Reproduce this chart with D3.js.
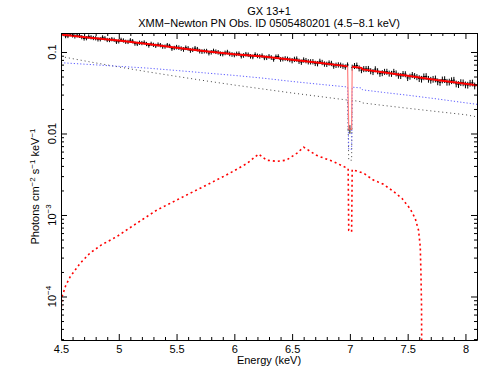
<!DOCTYPE html>
<html>
<head>
<meta charset="utf-8">
<script src="https://cdn.jsdelivr.net/npm/d3@7/dist/d3.min.js"></script>
<style>
  body { margin: 0; background: #fff; }
  svg text { font-family: "Liberation Sans", Arial, Helvetica, sans-serif; fill: #000; }
</style>
</head>
<body>
<svg id="chart" width="480" height="368"></svg>
<script>
// ---- values ----

// spectrum bins (keV), 0.02 keV wide; stored as two interleaved sets
const binHalfWidth = 0.01;
const dipBin = 7.0, dipHalfWidth = 0.02;
const dataEnergyA = d3.range(90).map(i => +(4.52 + 0.04 * i).toFixed(2));
const dataEnergyB = d3.range(89).map(i => +(4.54 + 0.04 * i).toFixed(2));
// observed flux, photons cm^-2 s^-1 keV^-1
const dataFluxA = [
  0.1662, 0.1574, 0.1600, 0.1609, 0.1524, 0.1479, 0.1517, 0.1476, 0.1435, 0.1474,
  0.1404, 0.1413, 0.1352, 0.1386, 0.1331, 0.1358, 0.1258, 0.1289, 0.1255, 0.1261,
  0.1192, 0.1215, 0.1166, 0.1188, 0.1123, 0.1132, 0.1076, 0.1108, 0.1068, 0.1083,
  0.1012, 0.1027, 0.0993, 0.1009, 0.0952, 0.0976, 0.0949, 0.0921, 0.0954, 0.0908,
  0.0926, 0.0872, 0.0898, 0.0902, 0.0852, 0.0857, 0.0875, 0.0812, 0.0834, 0.0802,
  0.0814, 0.0771, 0.0799, 0.0760, 0.0761, 0.0720, 0.0745, 0.0707, 0.0725, 0.0688,
  0.0690, 0.0655, 0.0113, 0.0675, 0.0631, 0.0619, 0.0621, 0.0569, 0.0582, 0.0552,
  0.0573, 0.0541, 0.0548, 0.0509, 0.0535, 0.0499, 0.0508, 0.0473, 0.0498, 0.0464,
  0.0464, 0.0432, 0.0456, 0.0427, 0.0446, 0.0407, 0.0423, 0.0396, 0.0415, 0.0384
];
const dataFluxB = [
  0.1569, 0.1659, 0.1557, 0.1582, 0.1467, 0.1551, 0.1486, 0.1430, 0.1513, 0.1407,
  0.1437, 0.1334, 0.1411, 0.1336, 0.1394, 0.1269, 0.1300, 0.1310, 0.1202, 0.1226,
  0.1237, 0.1164, 0.1216, 0.1098, 0.1148, 0.1102, 0.1128, 0.1045, 0.1113, 0.1026,
  0.1025, 0.0970, 0.1031, 0.0993, 0.0945, 0.0999, 0.0933, 0.0950, 0.0890, 0.0940,
  0.0886, 0.0930, 0.0885, 0.0849, 0.0885, 0.0813, 0.0881, 0.0820, 0.0824, 0.0784,
  0.0821, 0.0751, 0.0785, 0.0759, 0.0726, 0.0769, 0.0713, 0.0734, 0.0673, 0.0696,
  0.0671, 0.0693, 0.0644, 0.0683, 0.0600, 0.0620, 0.0583, 0.0616, 0.0542, 0.0572,
  0.0545, 0.0572, 0.0513, 0.0538, 0.0481, 0.0523, 0.0493, 0.0465, 0.0502, 0.0452,
  0.0469, 0.0425, 0.0460, 0.0429, 0.0452, 0.0400, 0.0420, 0.0393, 0.0418
];
// relative 1-sigma error, by energy band start
const errBandStart = [4.5, 5.5, 6.5, 6.99, 7.01, 7.6];
const errBandFrac  = [0.06, 0.065, 0.075, 0.12, 0.085, 0.095];

// model components on a common energy grid
const modelEnergy = [4.5, 4.75, 5.0, 5.25, 5.5, 5.75, 6.0, 6.25, 6.5, 6.75, 6.98,
                     6.99, 7.015, 7.02, 7.1, 7.11, 7.3, 7.5, 7.75, 8.0, 8.1];
const modelTotal  = [0.164, 0.150, 0.138, 0.125, 0.113, 0.102, 0.0935, 0.0878, 0.0804, 0.0733, 0.0666,
                     0.0113, 0.0113, 0.066, 0.0639, 0.0612, 0.0561, 0.0512, 0.0452, 0.0408, 0.0390];
const modelPowerlaw = [0.088, 0.0756, 0.0655, 0.0571, 0.0502, 0.0443, 0.0393, 0.0351, 0.0314, 0.0283, 0.0257,
                       0.0047, 0.0047, 0.0255, 0.0245, 0.0237, 0.0220, 0.0204, 0.0186, 0.0170, 0.0160];
const modelDisk   = [0.0739, 0.0702, 0.0667, 0.0634, 0.0593, 0.0553, 0.0516, 0.0477, 0.0435, 0.0400, 0.0372,
                     0.0064, 0.0064, 0.0370, 0.0362, 0.0343, 0.0318, 0.0295, 0.0266, 0.0238, 0.0228];
// the narrow absorption bin in the total model (drawn lighter)
const dipStart = 6.98, dipEnd = 7.02;

// line / reflection component (red dotted)
const lineEnergy = [4.5, 4.51, 4.54, 4.58, 4.665, 4.75, 4.85, 4.98, 5.13, 5.33, 5.56, 5.76, 5.96,
                    6.11, 6.21, 6.28, 6.37, 6.45, 6.54, 6.6, 6.71, 6.86, 6.985, 6.99, 7.015, 7.02,
                    7.05, 7.12, 7.2, 7.29, 7.38, 7.45, 7.52, 7.565, 7.594, 7.609, 7.615, 7.62, 7.625];
const lineFlux   = [6.5e-5, 1.0e-4, 1.35e-4, 1.75e-4, 2.55e-4, 3.4e-4, 4.3e-4, 5.4e-4, 7.5e-4, 1.15e-3,
                    1.68e-3, 2.33e-3, 3.25e-3, 4.3e-3, 5.6e-3, 4.7e-3, 4.55e-3, 4.7e-3, 5.7e-3, 6.8e-3,
                    5.4e-3, 4.5e-3, 3.7e-3, 6.5e-4, 6.2e-4, 3.6e-3, 3.5e-3, 3.25e-3, 2.7e-3, 2.38e-3,
                    1.93e-3, 1.6e-3, 1.2e-3, 9.1e-4, 6.5e-4, 4.1e-4, 1.9e-4, 7.5e-5, 1e-6];

// axis ticks and labels
const xMajorTicks = [4.5, 5, 5.5, 6, 6.5, 7, 7.5, 8];
const yMajorTicks = [0.1, 0.01, 1e-3, 1e-4];
const yTickBase   = ['0.1', '0.01', '10', '10'];
const yTickExp    = ['', '', '\u22123', '\u22124'];

const titleLine1 = 'GX 13+1';
const titleLine2 = 'XMM\u2212Newton PN Obs. ID 0505480201 (4.5\u22128.1 keV)';
const xTitle = 'Energy (keV)';

// ---- layout ----
const plot = { left: 61, right: 477, top: 33, bottom: 340 };
const svg = d3.select('#chart');

const x = d3.scaleLinear().domain([4.5, 8.1]).range([plot.left, plot.right]);
const y = d3.scaleLog().domain([2.925e-5, 0.171]).range([plot.bottom, plot.top]);

svg.append('defs').append('clipPath').attr('id', 'clip')
  .append('rect')
  .attr('x', plot.left).attr('y', plot.top)
  .attr('width', plot.right - plot.left).attr('height', plot.bottom - plot.top);

const layer = svg.append('g').attr('clip-path', 'url(#clip)');

function seriesLine(ex, vals, keep) {
  return d3.line()
    .defined((d, i) => !keep || keep(ex[i]))
    .x((d, i) => x(ex[i]))
    .y(d => y(d))(vals);
}

// model components (dotted)
layer.append('path')
  .attr('d', seriesLine(modelEnergy, modelPowerlaw))
  .attr('fill', 'none').attr('stroke', '#444').attr('stroke-width', 1)
  .attr('stroke-dasharray', '1,3');

layer.append('path')
  .attr('d', seriesLine(modelEnergy, modelDisk))
  .attr('fill', 'none').attr('stroke', '#5c5cff').attr('stroke-width', 1)
  .attr('stroke-dasharray', '1.2,2');

layer.append('path')
  .attr('d', seriesLine(lineEnergy, lineFlux))
  .attr('fill', 'none').attr('stroke', '#ff0000').attr('stroke-width', 1.6)
  .attr('stroke-dasharray', '2,3');

// data crosses
function errFor(e) {
  let f = errBandFrac[0];
  errBandStart.forEach((s, i) => { if (e >= s) f = errBandFrac[i]; });
  return f;
}

const pts = layer.append('g').attr('stroke', '#000').attr('stroke-width', 1);
function drawCrosses(energies, fluxes) {
  energies.forEach((e, i) => {
    const v = fluxes[i];
    const f = errFor(e);
    const hw = e === dipBin ? dipHalfWidth : binHalfWidth;
    pts.append('line')
      .attr('x1', x(e - hw)).attr('x2', x(e + hw))
      .attr('y1', y(v)).attr('y2', y(v));
    pts.append('line')
      .attr('x1', x(e)).attr('x2', x(e))
      .attr('y1', y(v * (1 - f))).attr('y2', y(v * (1 + f)));
  });
}
drawCrosses(dataEnergyA, dataFluxA);
drawCrosses(dataEnergyB, dataFluxB);

// total model (solid red), the absorption bin in a lighter stroke
layer.append('path')
  .attr('d', seriesLine(modelEnergy, modelTotal, e => e >= dipStart && e <= dipEnd))
  .attr('fill', 'none').attr('stroke', '#ff8080').attr('stroke-width', 1.2);
layer.append('path')
  .attr('d', seriesLine(modelEnergy, modelTotal, e => e <= dipStart))
  .attr('fill', 'none').attr('stroke', '#ff0000').attr('stroke-width', 2);
layer.append('path')
  .attr('d', seriesLine(modelEnergy, modelTotal, e => e >= dipEnd))
  .attr('fill', 'none').attr('stroke', '#ff0000').attr('stroke-width', 2);

// ---- axes (ticks inside, PGPLOT style) ----
const xMinorTicks = d3.range(45, 82).map(d => d / 10)
  .filter(d => !xMajorTicks.some(m => Math.abs(m - d) < 1e-6));
const yMinorTicks = [];
[-5, -4, -3, -2, -1].forEach(p => {
  for (let k = 2; k <= 9; k++) {
    const v = k * Math.pow(10, p);
    if (v > y.domain()[0] && v < y.domain()[1]) yMinorTicks.push(v);
  }
});

const axes = svg.append('g').attr('color', '#000').style('font-size', '11px');

axes.append('g').attr('transform', `translate(0,${plot.bottom})`)
  .call(d3.axisBottom(x).tickValues(xMajorTicks).tickSize(-6).tickSizeOuter(0)
    .tickPadding(5).tickFormat(d3.format('')))
  .call(g => g.selectAll('text').style('font-size', '11px').attr('font-family', null));
axes.append('g').attr('transform', `translate(0,${plot.bottom})`)
  .call(d3.axisBottom(x).tickValues(xMinorTicks).tickSize(-3).tickSizeOuter(0).tickFormat(''))
  .call(g => g.select('.domain').remove());

axes.append('g').attr('transform', `translate(0,${plot.top})`)
  .call(d3.axisTop(x).tickValues(xMajorTicks).tickSize(-6).tickSizeOuter(0).tickFormat(''));
axes.append('g').attr('transform', `translate(0,${plot.top})`)
  .call(d3.axisTop(x).tickValues(xMinorTicks).tickSize(-3).tickSizeOuter(0).tickFormat(''))
  .call(g => g.select('.domain').remove());

axes.append('g').attr('transform', `translate(${plot.left},0)`)
  .call(d3.axisLeft(y).tickValues(yMajorTicks).tickSize(-6).tickSizeOuter(0).tickFormat(''));
axes.append('g').attr('transform', `translate(${plot.left},0)`)
  .call(d3.axisLeft(y).tickValues(yMinorTicks).tickSize(-3).tickSizeOuter(0).tickFormat(''))
  .call(g => g.select('.domain').remove());

axes.append('g').attr('transform', `translate(${plot.right},0)`)
  .call(d3.axisRight(y).tickValues(yMajorTicks).tickSize(-6).tickSizeOuter(0).tickFormat(''));
axes.append('g').attr('transform', `translate(${plot.right},0)`)
  .call(d3.axisRight(y).tickValues(yMinorTicks).tickSize(-3).tickSizeOuter(0).tickFormat(''))
  .call(g => g.select('.domain').remove());

// y tick labels, rotated
yMajorTicks.forEach((v, i) => {
  const t = svg.append('text')
    .attr('transform', `translate(55.5,${y(v)}) rotate(-90)`)
    .attr('text-anchor', 'middle')
    .style('font-size', '11px');
  t.append('tspan').text(yTickBase[i]);
  if (yTickExp[i]) {
    t.append('tspan').attr('dy', -4.5).style('font-size', '8px').text(yTickExp[i]);
  }
});

// titles
svg.append('text').attr('x', (plot.left + plot.right) / 2).attr('y', 15)
  .attr('text-anchor', 'middle').style('font-size', '11px').text(titleLine1);
svg.append('text').attr('x', (plot.left + plot.right) / 2).attr('y', 26.5)
  .attr('text-anchor', 'middle').style('font-size', '11px').text(titleLine2);

svg.append('text').attr('x', (plot.left + plot.right) / 2).attr('y', 364)
  .attr('text-anchor', 'middle').style('font-size', '11px').text(xTitle);

// y axis title with superscripts
const yt = svg.append('text')
  .attr('transform', `translate(38.5,${(plot.top + plot.bottom) / 2}) rotate(-90)`)
  .attr('text-anchor', 'middle').style('font-size', '11px');
const yParts = [['Photons cm', ''], ['\u22122', 'sup'], [' s', ''], ['\u22121', 'sup'], [' keV', ''], ['\u22121', 'sup']];
yParts.forEach(([txt, kind], i) => {
  const ts = yt.append('tspan').text(txt);
  if (kind === 'sup') ts.attr('dy', -4).style('font-size', '8px');
  else if (i > 0) ts.attr('dy', 4);
});
</script>
</body>
</html>
